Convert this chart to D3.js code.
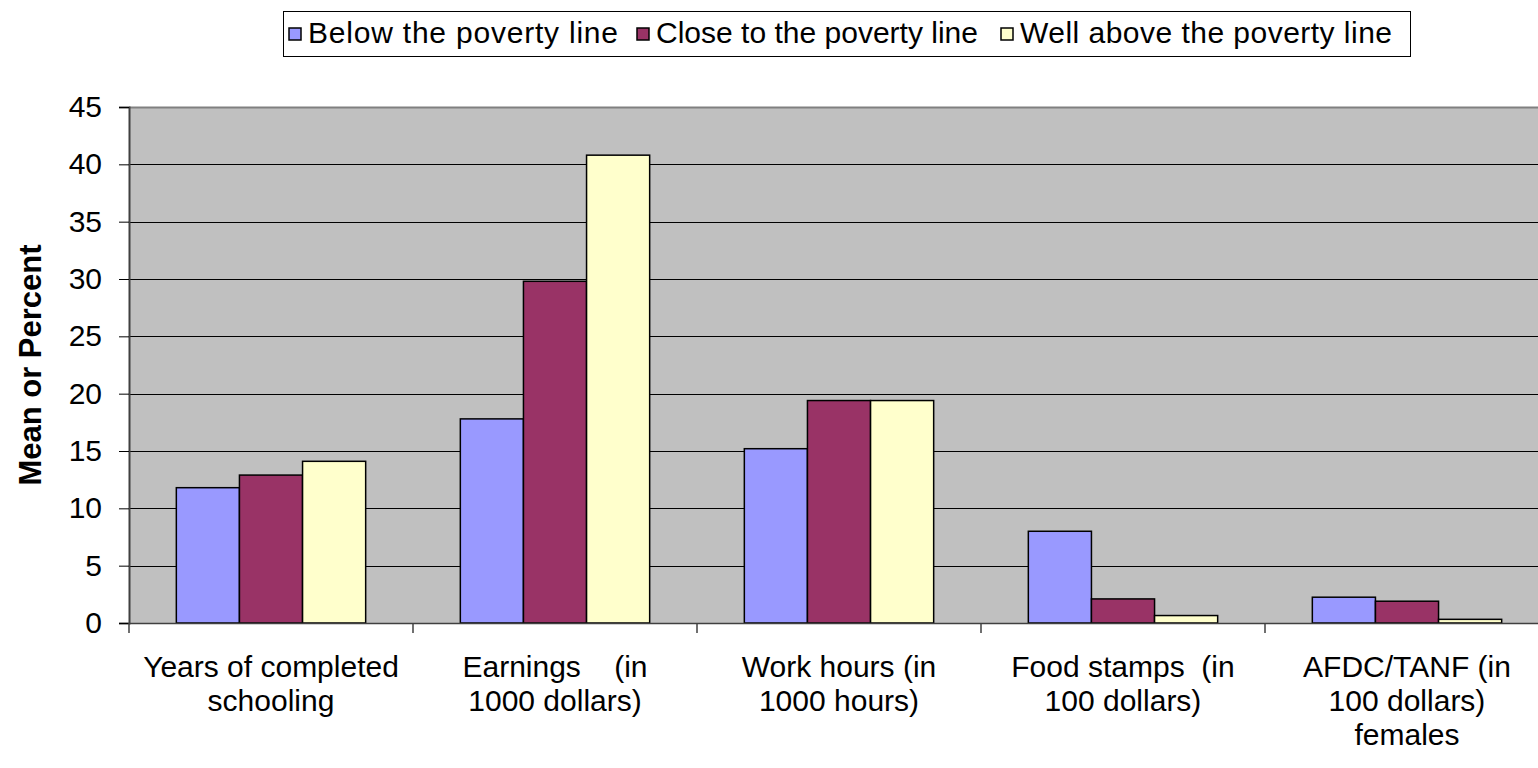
<!DOCTYPE html>
<html>
<head>
<meta charset="utf-8">
<script src="https://cdn.jsdelivr.net/npm/d3@7"></script>
<style>
  body { margin: 0; background: #fff; }
  svg { font-family: "Liberation Sans", Arial, sans-serif; }
  text { white-space: pre; }
</style>
</head>
<body>
<svg width="1538" height="768"></svg>
<script>
// chart values
const categories = [
  ["Years of completed", "schooling"],
  ["Earnings    (in", "1000 dollars)"],
  ["Work hours (in", "1000 hours)"],
  ["Food stamps  (in", "100 dollars)"],
  ["AFDC/TANF (in", "100 dollars)", "females"]
];
const seriesNames = ["Below the poverty line", "Close to the poverty line", "Well above the poverty line"];
const below = [11.8, 17.8, 15.2, 8.0, 2.25];
const close = [12.9, 29.8, 19.4, 2.1, 1.9];
const above = [14.1, 40.8, 19.4, 0.65, 0.32];
const yTicks = [0, 5, 10, 15, 20, 25, 30, 35, 40, 45];
const colors = ["#9999FF", "#993366", "#FFFFCC"];

const series = [below, close, above];

const svg = d3.select('svg');
const margin = { top: 107, right: -11, bottom: 145, left: 129 };
const width = +svg.attr('width');
const height = +svg.attr('height');
const innerWidth = width - margin.left - margin.right;
const innerHeight = height - margin.top - margin.bottom;

const g = svg.append('g')
  .attr('transform', `translate(${margin.left},${margin.top})`);

const xScale = d3.scaleBand()
  .domain(d3.range(categories.length))
  .range([0, innerWidth]);

// excel gap width 150%
const barW = xScale.bandwidth() / 4.5;
const groupPad = (xScale.bandwidth() - 3 * barW) / 2;

const yScale = d3.scaleLinear()
  .domain([0, 45])
  .range([innerHeight, 0]);

// plot background
g.append('rect')
  .attr('width', innerWidth)
  .attr('height', innerHeight)
  .attr('fill', '#C0C0C0');

// gridlines
g.selectAll('.grid').data(yTicks.filter(d => d > 0)).enter()
  .append('line')
    .attr('x1', 0).attr('x2', innerWidth)
    .attr('y1', d => Math.round(yScale(d)) + 0.5)
    .attr('y2', d => Math.round(yScale(d)) + 0.5)
    .attr('stroke', d => d === 45 ? '#808080' : '#000')
    .attr('stroke-width', d => d === 45 ? 2 : 1);

// bars
series.forEach((vals, si) => {
  g.selectAll('.bar' + si).data(vals).enter()
    .append('rect')
      .attr('x', (d, i) => xScale(i) + groupPad + si * barW)
      .attr('y', d => yScale(d))
      .attr('width', barW)
      .attr('height', d => yScale(0) - yScale(d))
      .attr('fill', colors[si])
      .attr('stroke', '#000')
      .attr('stroke-width', 1.5);
});

// y axis
const yAxis = d3.axisLeft(yScale)
  .tickValues(yTicks)
  .tickSize(10)
  .tickPadding(17);

const yAxisG = g.append('g').call(yAxis);
yAxisG.attr('font-size', null).attr('font-family', null);
yAxisG.select('.domain').attr('stroke', '#404040').attr('stroke-width', 2);
yAxisG.selectAll('.tick line').attr('stroke', '#000');
yAxisG.selectAll('.tick text')
  .style('font-size', '30px')
  .attr('fill', '#000');

// x axis baseline and ticks
g.append('line')
  .attr('x1', 0).attr('x2', innerWidth)
  .attr('y1', innerHeight + 0.5).attr('y2', innerHeight + 0.5)
  .attr('stroke', '#404040').attr('stroke-width', 1.5);

g.selectAll('.xtick').data(d3.range(categories.length)).enter()
  .append('line')
    .attr('x1', i => xScale(i)).attr('x2', i => xScale(i))
    .attr('y1', innerHeight).attr('y2', innerHeight + 10)
    .attr('stroke', '#404040').attr('stroke-width', 1.5);

// category labels
categories.forEach((lines, i) => {
  const t = g.append('text')
    .attr('text-anchor', 'middle')
    .style('font-size', '30px')
    .attr('fill', '#000')
    .attr('y', innerHeight + 54);
  lines.forEach((ln, k) => {
    t.append('tspan')
      .attr('x', xScale(i) + xScale.bandwidth() / 2)
      .attr('dy', k === 0 ? 0 : 34)
      .text(ln);
  });
});

// y axis label
svg.append('text')
  .attr('transform', `translate(41,${margin.top + innerHeight / 2}) rotate(-90)`)
  .attr('text-anchor', 'middle')
  .style('font-size', '31px')
  .attr('font-weight', 'bold')
  .text('Mean or Percent');

// legend
const legend = svg.append('g');
legend.append('rect')
  .attr('x', 283.5).attr('y', 11.5)
  .attr('width', 1127).attr('height', 45)
  .attr('fill', '#fff')
  .attr('stroke', '#000')
  .attr('stroke-width', 1);

const legendX = [308, 656, 1020];
seriesNames.forEach((name, i) => {
  legend.append('rect')
    .attr('x', legendX[i] - 19).attr('y', 28)
    .attr('width', 12).attr('height', 12)
    .attr('fill', colors[i])
    .attr('stroke', '#000')
    .attr('stroke-width', 1.5);
  legend.append('text')
    .attr('x', legendX[i])
    .attr('y', 43)
    .attr('textLength', [310, 322, 372][i])
    .style('font-size', '30px')
    .text(name);
});
</script>
</body>
</html>
